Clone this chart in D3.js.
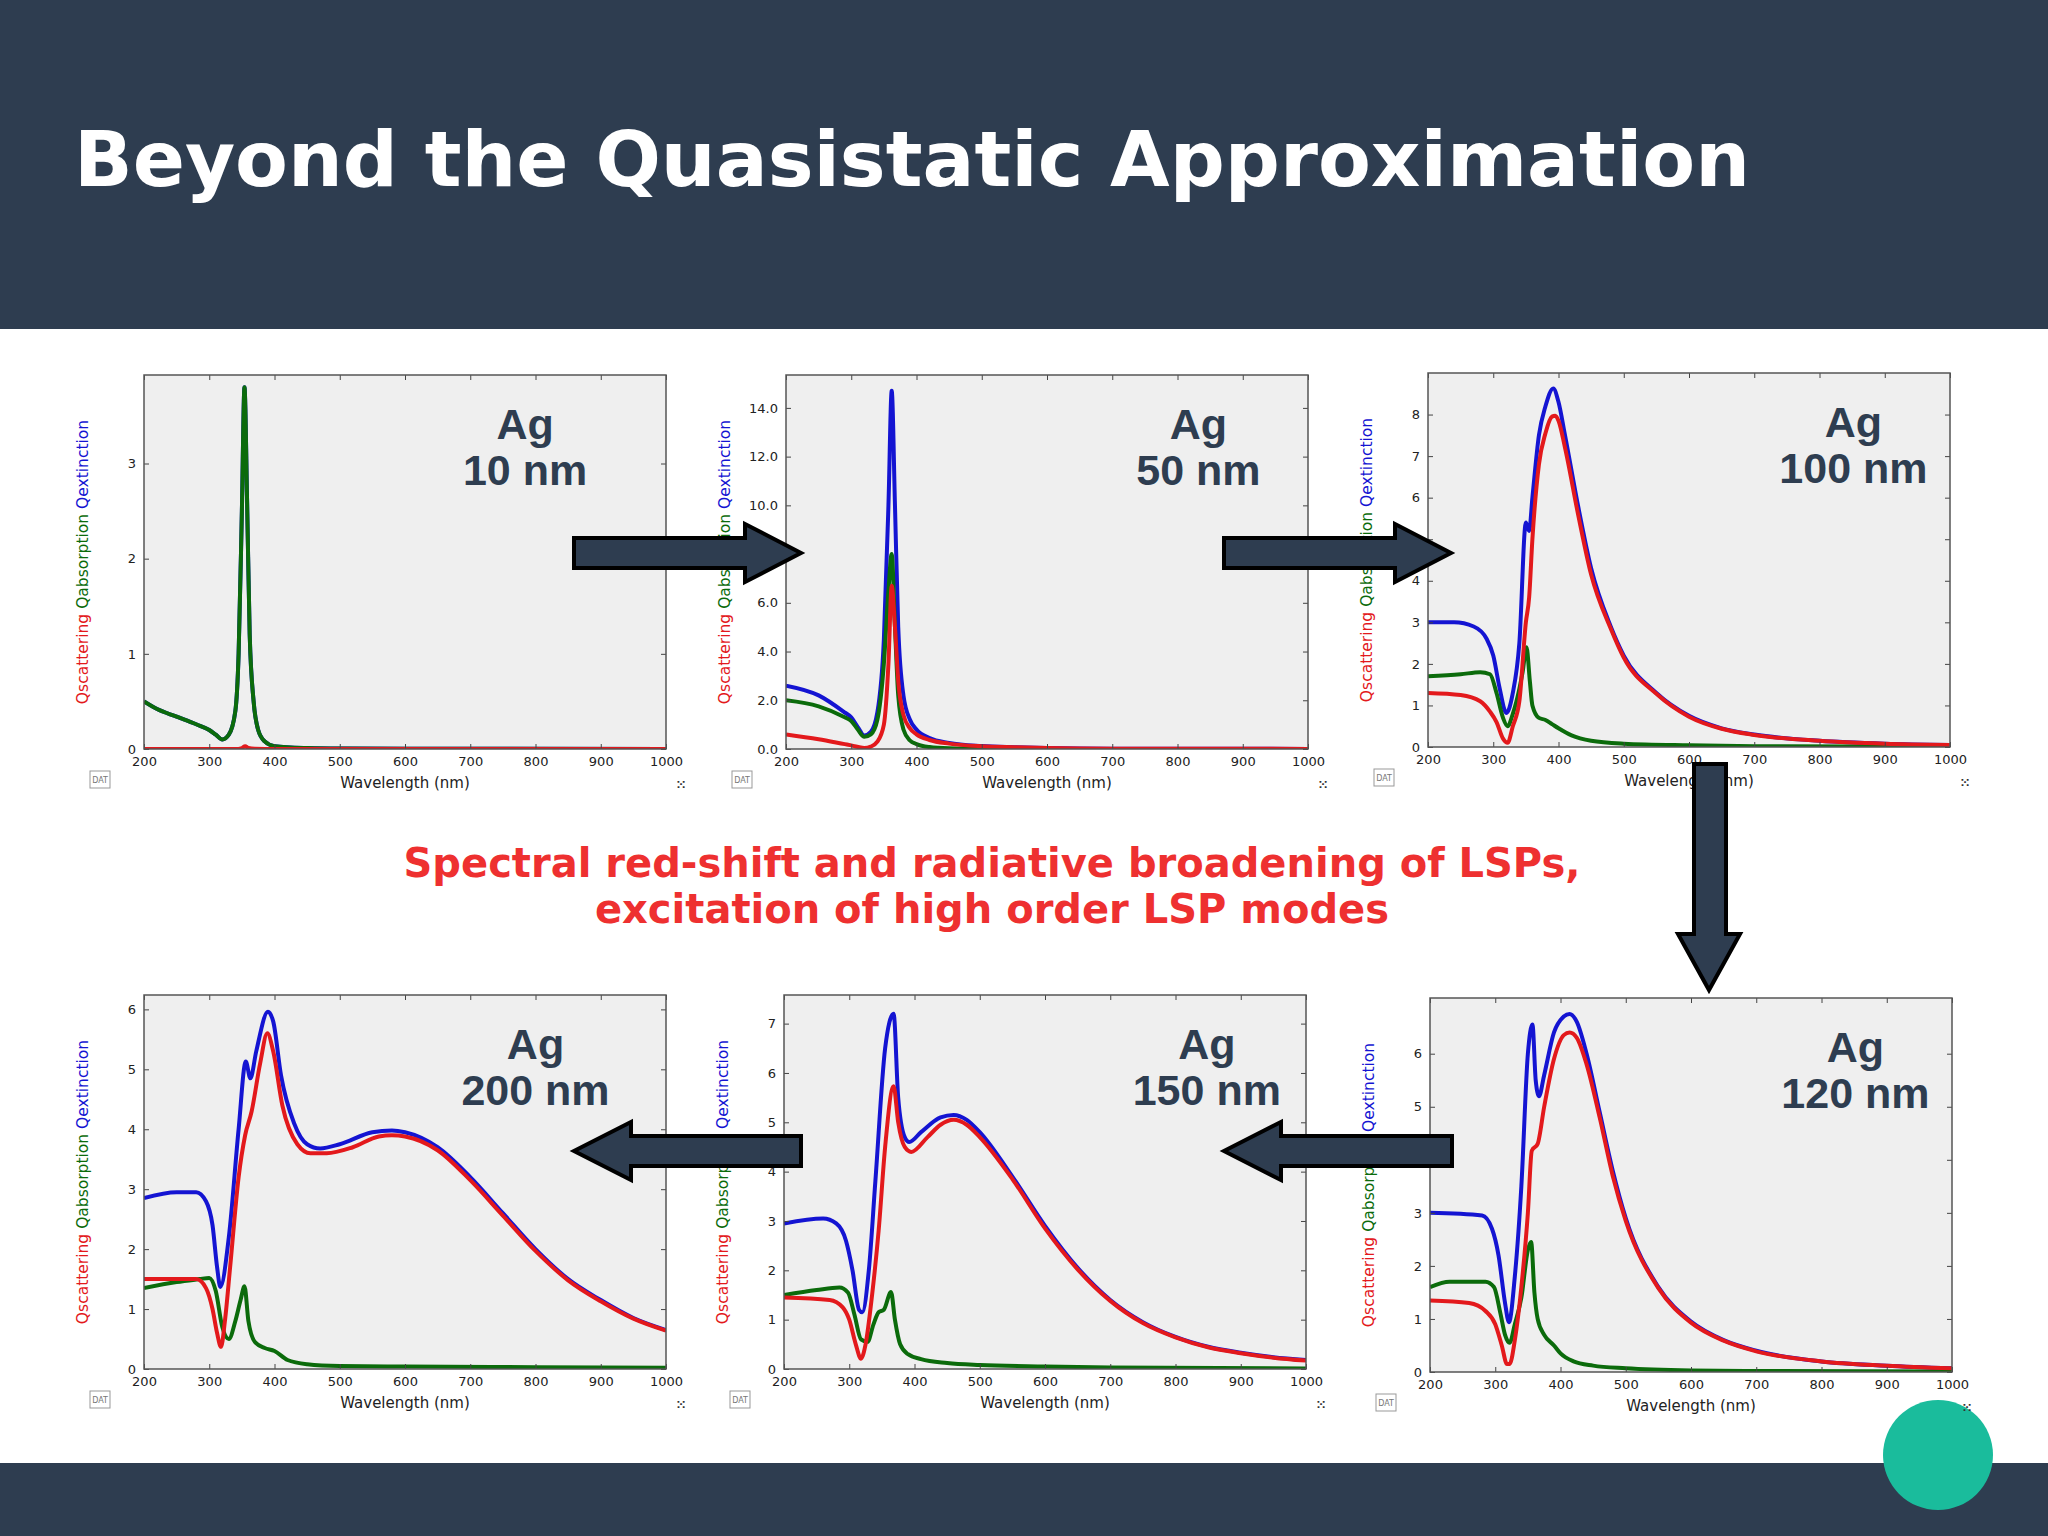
<!DOCTYPE html>
<html>
<head>
<meta charset="utf-8">
<script src="https://cdn.jsdelivr.net/npm/d3@7"></script>
<style>
  body { margin: 0; background: #fff; }
  svg { display: block; }
</style>
</head>
<body>
<div id="slide"></div>
<script>
// spectra, [wavelength nm, Q]
var ag10Ext = [[200,0.5],[220,0.42],[250,0.34],[280,0.26],[300,0.2],[310,0.15],[320,0.1],[330,0.15],[340,0.4],[345,1.0],[350,2.5],[354,3.8],[358,2.6],[362,1.2],[368,0.5],[375,0.2],[385,0.08],[400,0.03],[450,0.01],[500,0.004],[600,0.002],[1000,0.001]];
var ag10Abs = ag10Ext;
var ag10Sca = [[200,0],[340,0],[350,0.01],[355,0.03],[360,0.01],[370,0.003],[400,0.001],[1000,0]];

var ag50Ext = [[200,2.6],[250,2.2],[290,1.5],[300,1.3],[310,0.9],[320,0.55],[330,0.7],[340,1.5],[350,4.5],[357,10],[362,14.7],[367,10],[372,5],[380,2.2],[390,1.2],[400,0.8],[420,0.45],[450,0.25],[500,0.12],[550,0.07],[600,0.04],[650,0.02],[700,0.01],[1000,0.005]];
var ag50Abs = [[200,2.0],[250,1.75],[290,1.3],[300,1.15],[310,0.8],[320,0.5],[330,0.6],[340,1.2],[350,3.5],[357,6.5],[362,8.0],[367,5],[372,2.2],[380,0.8],[390,0.35],[400,0.2],[420,0.08],[450,0.03],[500,0.01],[600,0.003],[1000,0.001]];
var ag50Sca = [[200,0.6],[250,0.4],[290,0.2],[300,0.15],[320,0.04],[330,0.1],[340,0.3],[350,1],[357,3.5],[362,6.7],[367,5],[372,2.8],[380,1.4],[390,0.85],[400,0.6],[420,0.37],[450,0.22],[500,0.11],[550,0.07],[600,0.04],[650,0.02],[700,0.01],[1000,0.005]];

var ag100Ext = [[200,3.0],[240,3.0],[270,2.9],[290,2.6],[300,2.2],[310,1.4],[320,0.82],[330,1.3],[340,2.5],[350,5.4],[355,5.2],[360,6.0],[370,7.5],[380,8.2],[392,8.63],[400,8.3],[410,7.5],[430,5.8],[450,4.3],[480,2.9],[500,2.2],[550,1.3],[600,0.75],[650,0.45],[700,0.3],[800,0.15],[900,0.08],[1000,0.05]];
var ag100Abs = [[200,1.7],[250,1.75],[280,1.8],[295,1.75],[305,1.3],[315,0.7],[322,0.5],[330,0.8],[340,1.4],[345,1.8],[351,2.4],[356,1.6],[360,1.0],[370,0.7],[380,0.65],[390,0.55],[400,0.45],[420,0.28],[450,0.15],[500,0.08],[600,0.04],[700,0.02],[1000,0.005]];
var ag100Sca = [[200,1.3],[250,1.25],[280,1.1],[295,0.85],[305,0.6],[315,0.2],[322,0.1],[330,0.5],[340,1.1],[350,3.0],[355,3.6],[360,5.0],[370,6.8],[380,7.55],[390,7.95],[395,7.97],[400,7.85],[410,7.2],[430,5.6],[450,4.15],[480,2.85],[500,2.15],[550,1.28],[600,0.73],[650,0.44],[700,0.29],[800,0.15],[900,0.08],[1000,0.05]];

var ag120Ext = [[200,3.0],[280,2.95],[295,2.7],[305,2.2],[315,1.3],[321,0.94],[330,1.8],[340,3.5],[350,6.0],[357,6.55],[362,5.5],[367,5.2],[375,5.6],[390,6.4],[405,6.7],[414,6.75],[425,6.6],[440,6.0],[460,4.9],[480,3.8],[500,2.9],[550,1.6],[600,0.95],[650,0.6],[700,0.4],[800,0.2],[900,0.12],[1000,0.07]];
var ag120Abs = [[200,1.6],[230,1.7],[285,1.7],[298,1.6],[308,1.1],[315,0.7],[322,0.55],[330,0.9],[340,1.4],[350,2.3],[355,2.45],[360,1.5],[365,1.0],[375,0.7],[390,0.5],[400,0.35],[420,0.2],[450,0.12],[500,0.07],[600,0.03],[700,0.02],[1000,0.01]];
var ag120Sca = [[200,1.35],[260,1.3],[285,1.15],[300,0.9],[310,0.5],[318,0.15],[322,0.15],[330,0.6],[340,1.6],[350,3.0],[356,4.17],[365,4.3],[375,5.0],[390,5.9],[405,6.35],[414,6.4],[425,6.3],[440,5.8],[460,4.8],[480,3.7],[500,2.85],[550,1.58],[600,0.93],[650,0.59],[700,0.39],[800,0.2],[900,0.12],[1000,0.07]];

var ag150Ext = [[200,2.95],[260,3.05],[280,2.95],[295,2.6],[305,2.0],[315,1.2],[320,1.15],[330,2.0],[340,3.8],[355,6.5],[368,7.2],[375,5.5],[385,4.7],[392,4.6],[410,4.8],[440,5.1],[460,5.15],[480,5.05],[500,4.8],[550,3.9],[600,2.9],[650,2.05],[700,1.4],[750,0.95],[800,0.65],[850,0.45],[900,0.33],[950,0.24],[1000,0.18]];
var ag150Abs = [[200,1.5],[250,1.6],[285,1.65],[298,1.55],[308,1.1],[318,0.6],[328,0.55],[337,0.9],[345,1.15],[353,1.2],[364,1.56],[370,1.0],[378,0.5],[390,0.3],[410,0.2],[450,0.12],[500,0.08],[600,0.05],[700,0.03],[1000,0.01]];
var ag150Sca = [[200,1.45],[270,1.4],[290,1.25],[300,1.0],[310,0.5],[318,0.21],[325,0.5],[335,1.5],[345,2.8],[355,4.5],[368,5.73],[375,5.0],[385,4.5],[395,4.4],[420,4.7],[440,4.95],[460,5.05],[480,4.95],[500,4.7],[550,3.85],[600,2.85],[650,2.02],[700,1.38],[750,0.93],[800,0.64],[850,0.44],[900,0.32],[950,0.23],[1000,0.17]];

var ag200Ext = [[200,2.85],[250,2.95],[280,2.95],[295,2.8],[305,2.4],[312,1.7],[317,1.37],[330,2.2],[345,4.0],[356,5.13],[363,4.85],[372,5.3],[390,5.96],[398,5.8],[410,4.9],[430,4.1],[450,3.75],[470,3.68],[500,3.75],[550,3.95],[580,3.98],[600,3.95],[650,3.7],[700,3.2],[750,2.6],[800,2.0],[850,1.5],[900,1.15],[950,0.85],[1000,0.65]];
var ag200Abs = [[200,1.35],[250,1.45],[285,1.5],[300,1.52],[310,1.3],[320,0.7],[330,0.5],[340,0.8],[348,1.15],[354,1.38],[360,0.8],[370,0.45],[385,0.35],[400,0.3],[420,0.15],[450,0.08],[500,0.05],[600,0.04],[800,0.03],[1000,0.02]];
var ag200Sca = [[200,1.5],[280,1.5],[295,1.35],[305,1.0],[312,0.6],[318,0.37],[324,0.8],[332,1.7],[345,3.2],[355,3.9],[365,4.3],[378,5.1],[389,5.6],[398,5.3],[412,4.4],[435,3.75],[455,3.6],[480,3.6],[520,3.7],[560,3.88],[580,3.9],[600,3.88],[650,3.65],[700,3.15],[750,2.56],[800,1.97],[850,1.48],[900,1.13],[950,0.84],[1000,0.64]];

var xTicks = [200,300,400,500,600,700,800,900,1000];

var panels = [
  {name:"10 nm",  left:144, top:375, yMax:3.93,  yTicks:[0,1,2,3],      fmt:"d",  lx:0.73, ext:ag10Ext,  abs:ag10Abs,  sca:ag10Sca},
  {name:"50 nm",  left:786, top:375, yMax:15.35, yTicks:[0,2,4,6,8,10,12,14], fmt:".1f", lx:0.79, ext:ag50Ext, abs:ag50Abs, sca:ag50Sca},
  {name:"100 nm", left:1428,top:373, yMax:9.0,   yTicks:[0,1,2,3,4,5,6,7,8], fmt:"d", lx:0.815, ext:ag100Ext, abs:ag100Abs, sca:ag100Sca},
  {name:"200 nm", left:144, top:995, yMax:6.24,  yTicks:[0,1,2,3,4,5,6], fmt:"d", lx:0.75, ext:ag200Ext, abs:ag200Abs, sca:ag200Sca},
  {name:"150 nm", left:784, top:995, yMax:7.58,  yTicks:[0,1,2,3,4,5,6,7], fmt:"d", lx:0.81, ext:ag150Ext, abs:ag150Abs, sca:ag150Sca},
  {name:"120 nm", left:1430,top:998, yMax:7.05,  yTicks:[0,1,2,3,4,5,6], fmt:"d", lx:0.815, ext:ag120Ext, abs:ag120Abs, sca:ag120Sca}
];

var W = 2048, H = 1536, pw = 522, ph = 374;
var dark = "#2e3d50";

var svg = d3.select("#slide").append("svg").attr("width", W).attr("height", H);

svg.append("rect").attr("width", W).attr("height", 329).attr("fill", dark);
svg.append("rect").attr("y", 1463).attr("width", W).attr("height", H - 1463).attr("fill", dark);
svg.append("circle").attr("cx", 1938).attr("cy", 1455).attr("r", 55).attr("fill", "#1abc9c");

svg.append("text")
    .attr("x", 74).attr("y", 186)
    .attr("font-family", "DejaVu Sans").attr("font-weight", "bold").attr("font-size", 77)
    .attr("fill", "#fff")
    .text("Beyond the Quasistatic Approximation");

var x = d3.scaleLinear().domain([200, 1000]).range([0, pw]);

panels.forEach(function(p, i) {
  var y = d3.scaleLinear().domain([0, p.yMax]).range([ph, 0]);
  var g = svg.append("g").attr("transform", "translate(" + p.left + "," + p.top + ")");

  g.append("rect").attr("width", pw).attr("height", ph).attr("fill", "#efefef");
  g.append("clipPath").attr("id", "clip" + i)
    .append("rect").attr("width", pw).attr("height", ph);

  var line = d3.line()
      .x(function(d) { return x(d[0]); })
      .y(function(d) { return y(d[1]); })
      .curve(d3.curveMonotoneX);

  var curves = g.append("g").attr("clip-path", "url(#clip" + i + ")");
  [[p.ext, "#1414d2"], [p.abs, "#0b6b0b"], [p.sca, "#e3191c"]].forEach(function(s) {
    curves.append("path").attr("d", line(s[0]))
        .attr("fill", "none").attr("stroke", s[1]).attr("stroke-width", 4)
        .attr("stroke-linejoin", "round");
  });

  var axFont = function(sel) {
    sel.selectAll("text").attr("font-family", "DejaVu Sans").attr("font-size", 13).attr("fill", "#222");
    sel.select(".domain").remove();
    sel.selectAll("line").attr("stroke", "#444");
  };
  g.append("g").attr("transform", "translate(0," + ph + ")")
      .call(d3.axisBottom(x).tickValues(xTicks).tickSize(-5).tickPadding(8).tickFormat(d3.format("d")))
      .call(axFont);
  g.append("g")
      .call(d3.axisTop(x).tickValues(xTicks).tickSize(-5).tickFormat(""))
      .call(axFont);
  g.append("g")
      .call(d3.axisLeft(y).tickValues(p.yTicks).tickSize(-5).tickPadding(8).tickFormat(d3.format(p.fmt)))
      .call(axFont);
  g.append("g").attr("transform", "translate(" + pw + ",0)")
      .call(d3.axisRight(y).tickValues(p.yTicks).tickSize(-5).tickFormat(""))
      .call(axFont);
  g.append("rect").attr("width", pw).attr("height", ph)
      .attr("fill", "none").attr("stroke", "#555").attr("stroke-width", 1.5);

  g.append("text").attr("x", pw / 2).attr("y", ph + 39)
      .attr("text-anchor", "middle").attr("font-family", "DejaVu Sans").attr("font-size", 15)
      .attr("fill", "#222").text("Wavelength (nm)");

  var yl = g.append("text")
      .attr("transform", "translate(-56," + (ph * 0.5) + ") rotate(-90)")
      .attr("text-anchor", "middle").attr("font-family", "DejaVu Sans").attr("font-size", 15.5);
  yl.append("tspan").attr("fill", "#e3191c").text("Qscattering  ");
  yl.append("tspan").attr("fill", "#0b6b0b").text("Qabsorption  ");
  yl.append("tspan").attr("fill", "#1414d2").text("Qextinction");

  // DAT badge and resize grip
  g.append("rect").attr("x", -54).attr("y", ph + 22).attr("width", 20).attr("height", 17)
      .attr("fill", "#fff").attr("stroke", "#999");
  g.append("text").attr("x", -44).attr("y", ph + 34).attr("text-anchor", "middle")
      .attr("font-family", "DejaVu Sans").attr("font-size", 8).attr("fill", "#777").text("DAT");
  g.append("text").attr("x", pw + 20).attr("y", ph + 40).attr("text-anchor", "end")
      .attr("font-family", "DejaVu Sans").attr("font-size", 12).attr("font-weight", "bold").attr("fill", "#333").text("⁙");

  var lab = g.append("text").attr("text-anchor", "middle")
      .attr("font-family", "Liberation Sans").attr("font-weight", "bold").attr("font-size", 43)
      .attr("fill", dark);
  lab.append("tspan").attr("x", pw * p.lx).attr("y", 64).text("Ag");
  lab.append("tspan").attr("x", pw * p.lx).attr("y", 110).text(p.name);
});

// flow arrows between panels
function arrow(pts) {
  svg.append("path").attr("d", d3.line()(pts) + "Z")
      .attr("fill", dark).attr("stroke", "#000").attr("stroke-width", 4).attr("stroke-linejoin", "miter");
}
function hArrow(x0, x1, tip, cy) {
  arrow([[x0, cy - 15], [x1, cy - 15], [x1, cy - 29], [tip, cy], [x1, cy + 29], [x1, cy + 15], [x0, cy + 15]]);
}
hArrow(574, 745, 801, 553);
hArrow(1224, 1395, 1451, 553);
hArrow(801, 631, 574, 1151);
hArrow(1452, 1281, 1224, 1151);
arrow([[1694, 764], [1726, 764], [1726, 934], [1740, 934], [1709, 990], [1678, 934], [1694, 934]]);

var msg = svg.append("text").attr("text-anchor", "middle")
    .attr("font-family", "DejaVu Sans").attr("font-weight", "bold").attr("font-size", 40)
    .attr("fill", "#ee3030");
msg.append("tspan").attr("x", 992).attr("y", 877).text("Spectral red-shift and radiative broadening of LSPs,");
msg.append("tspan").attr("x", 992).attr("y", 923).text("excitation of high order LSP modes");
</script>
</body>
</html>
